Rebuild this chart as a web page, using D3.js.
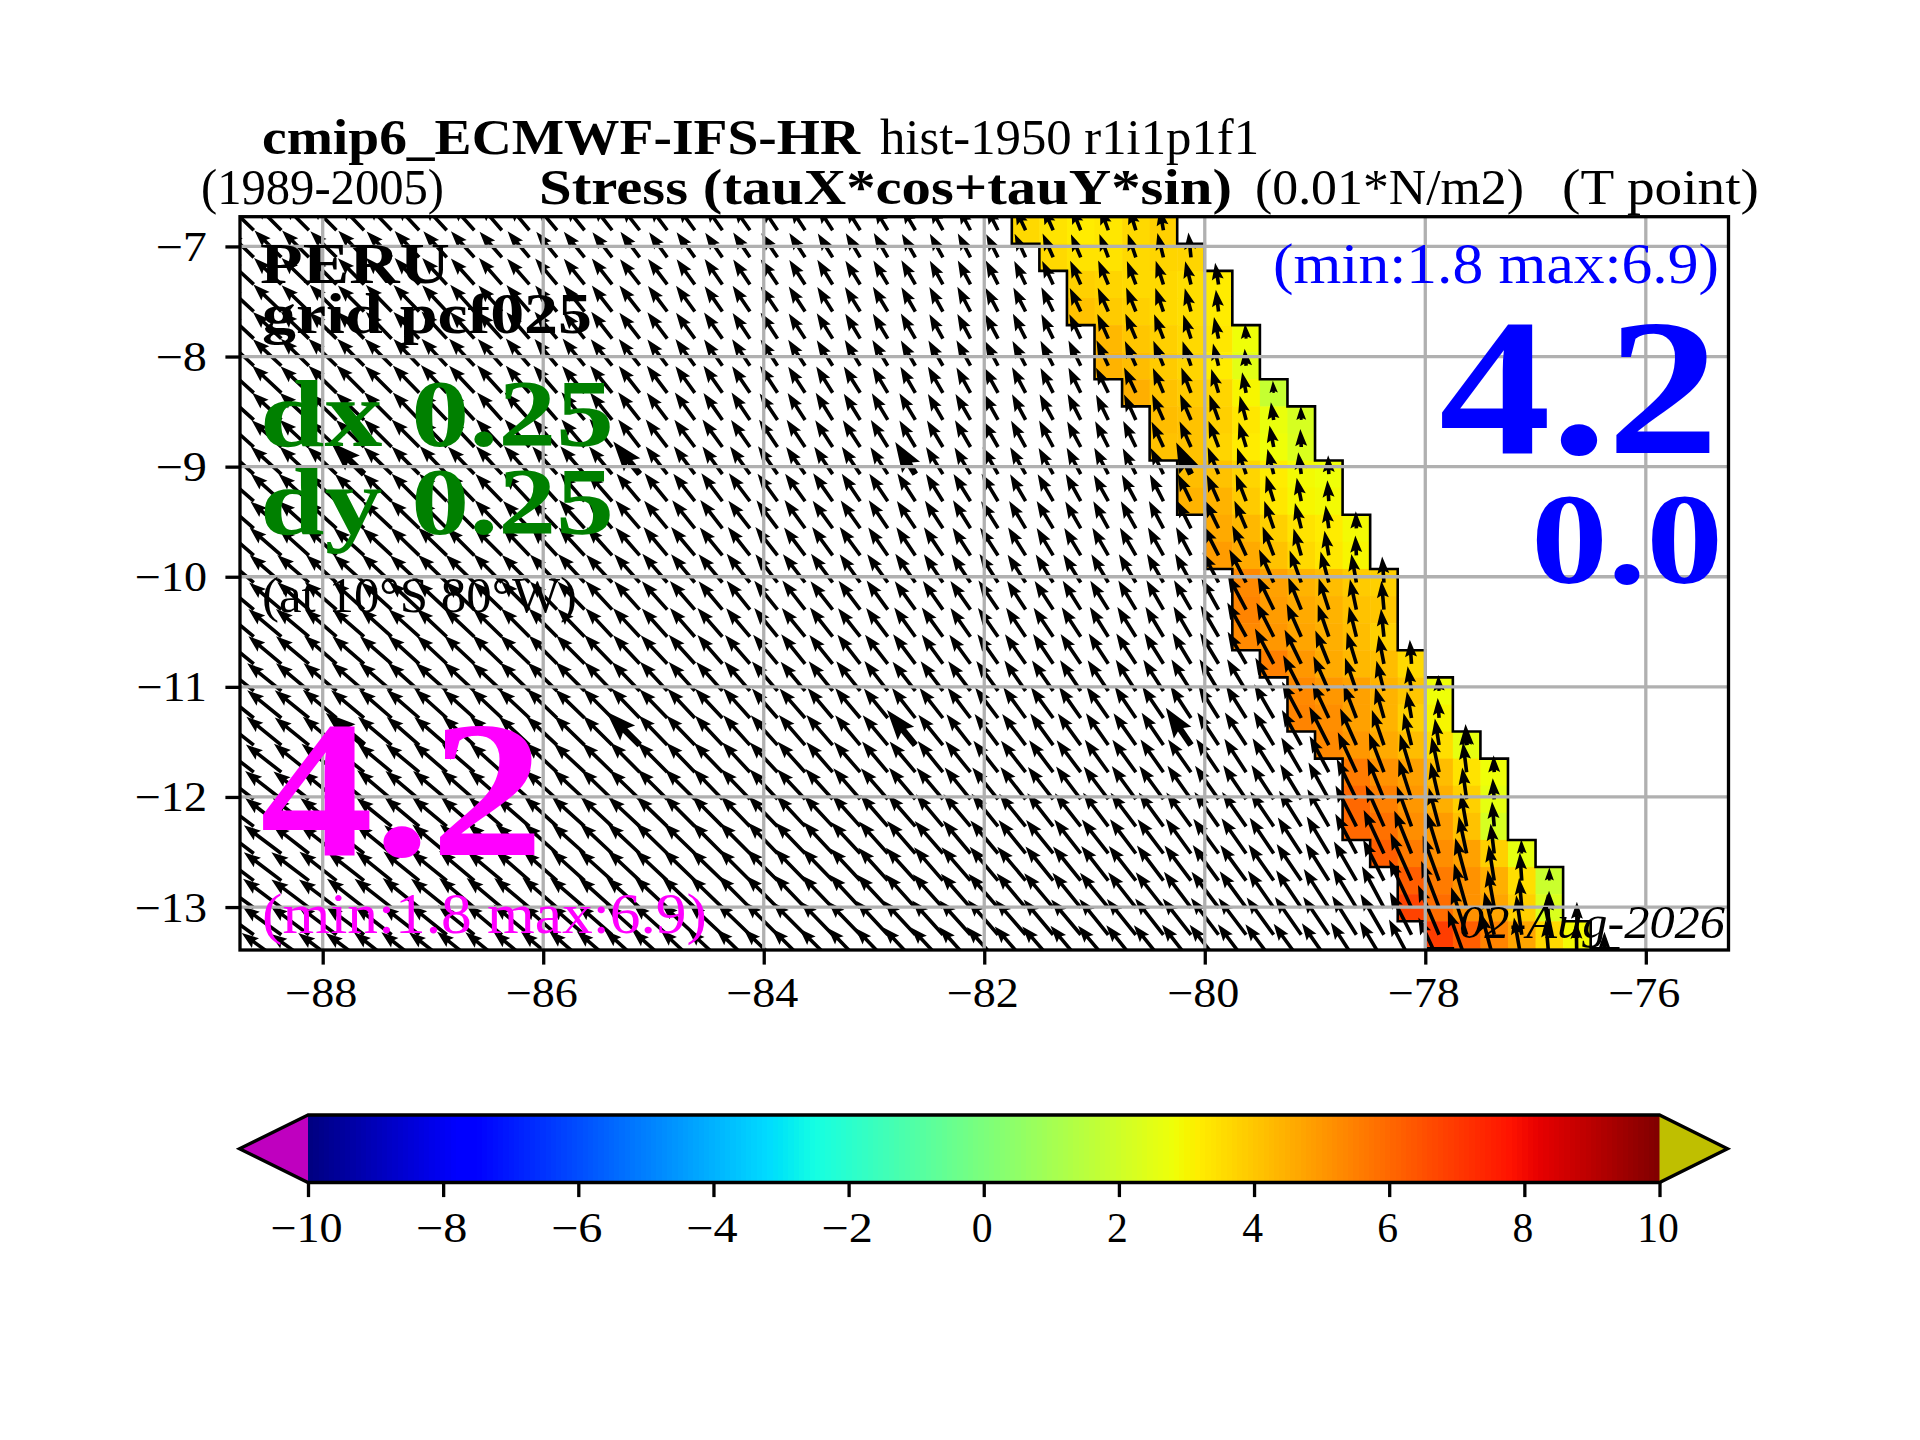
<!DOCTYPE html>
<html>
<head>
<meta charset="UTF-8">
<title>Stress PERU</title>
<script src="https://d3js.org/d3.v7.min.js"></script>
<style>
  body { margin: 0; padding: 0; background: #fff; }
  svg { display: block; }
  text { font-family: "Liberation Serif", serif; fill: #000; white-space: pre; }
</style>
</head>
<body>
<div id="chart"></div>
<script>
const lonTicks = [-88, -86, -84, -82, -80, -78, -76];
const latTicks = [-7, -8, -9, -10, -11, -12, -13];
const colorTicks = [-10, -8, -6, -4, -2, 0, 2, 4, 6, 8, 10];

// first land column of each model row (rows run north to south)
const coastCols = [34, 35, 36, 36, 37, 37, 38, 39, 39, 40, 40, 41, 41, 42, 42, 42, 43, 44, 44, 45, 46, 46, 46, 47, 48, 48, 49, 50];

// shaded coastal band: 6 cells per row, west to east, ending at the coast
const bandValues = [
  [3.6, 3.4, 3.2, 3.3, 3.6, 3.8],
  [3.6, 3.4, 3.4, 3.6, 3.7, 3.7],
  [3.8, 3.7, 3.6, 3.6, 3.5, 3.2],
  [4.1, 3.9, 3.8, 3.6, 3.5, 3.2],
  [4.3, 4.0, 3.8, 3.6, 3.3, 2.8],
  [4.4, 4.2, 3.9, 3.7, 3.2, 2.5],
  [4.5, 4.1, 3.9, 3.7, 3.0, 1.8],
  [4.2, 4.1, 3.8, 3.3, 2.7, 2.2],
  [4.1, 4.1, 3.7, 3.2, 2.8, 2.3],
  [4.2, 4.1, 3.7, 3.2, 2.9, 2.8],
  [4.4, 4.4, 3.9, 3.3, 3.0, 2.9],
  [4.6, 4.3, 3.8, 3.4, 3.2, 2.9],
  [4.9, 4.6, 4.1, 3.6, 3.3, 3.0],
  [5.3, 4.8, 4.4, 4.2, 3.9, 3.8],
  [5.4, 4.9, 4.6, 4.4, 4.1, 4.0],
  [5.3, 5.0, 4.7, 4.5, 4.2, 3.8],
  [5.5, 5.0, 4.6, 4.3, 4.2, 3.6],
  [5.3, 5.0, 4.8, 4.4, 4.0, 2.8],
  [5.4, 5.2, 4.8, 4.4, 3.8, 3.0],
  [5.3, 5.0, 4.6, 4.2, 3.5, 2.6],
  [5.6, 5.1, 4.8, 4.2, 3.4, 2.8],
  [6.0, 5.5, 5.0, 4.5, 3.8, 2.6],
  [6.0, 5.8, 5.2, 4.9, 4.1, 2.2],
  [6.2, 5.6, 5.2, 4.8, 3.8, 2.6],
  [6.2, 5.6, 5.1, 4.5, 3.5, 1.9],
  [6.8, 5.9, 5.1, 4.7, 3.8, 2.3],
  [6.9, 6.2, 5.4, 4.7, 3.6, 2.9]
];

// stress direction, degrees west of north, one row per model row
const stressDir = [
  [46,45,45,45,44,44,43,43,42,41, 40,40,39,38,38,37,36,35,35,34, 33,33,32,31,30,29,28,27,25,24, 22,20,17,10],
  [46,45,45,45,44,44,43,42,42,41, 40,39,39,38,37,36,36,35,34,34, 33,32,31,30,30,29,28,27,25,24, 23,21,19,14,6],
  [47,46,46,45,45,44,43,43,42,41, 41,40,39,38,38,37,36,35,34,34, 33,32,32,31,30,29,28,27,26,25, 24,23,21,18,14,9],
  [47,46,46,45,45,44,44,43,42,42, 41,40,39,38,38,37,36,35,34,34, 33,32,32,31,30,29,28,28,27,26, 25,24,22,19,15,7],
  [47,47,46,46,45,44,44,43,42,42, 41,40,39,38,38,37,36,35,34,33, 33,32,31,31,30,29,28,28,27,26, 25,24,23,21,18,12,4],
  [47,47,46,46,45,45,44,43,43,42, 41,40,39,39,38,37,36,35,34,33, 33,32,31,31,30,30,29,28,28,27, 26,25,24,22,19,14,5],
  [48,47,47,46,45,45,44,43,43,42, 41,41,40,39,38,37,36,35,34,33, 33,32,32,31,30,30,29,29,28,27, 26,26,25,23,21,17,11,4],
  [48,47,47,46,46,45,44,44,43,42, 42,41,40,39,38,37,36,35,34,34, 33,32,32,31,31,30,30,29,28,28, 27,26,25,24,23,20,15,9,2],
  [48,48,47,47,46,45,45,44,43,43, 42,41,40,39,38,38,37,36,35,34, 34,33,33,32,31,31,30,30,29,28, 28,27,26,25,24,21,17,11,3],
  [48,48,47,47,46,46,45,44,44,43, 42,42,41,40,39,38,37,36,36,35, 35,34,34,33,32,32,31,30,30,29, 28,28,27,26,25,22,19,14,8,2],
  [49,48,48,47,47,46,45,45,44,44, 43,42,41,41,40,39,38,37,37,36, 36,35,34,34,33,32,32,31,30,30, 29,29,28,27,26,24,21,17,11,4],
  [49,49,48,48,47,47,46,45,45,44, 44,43,42,41,41,40,39,38,38,37, 36,36,35,34,34,33,32,32,31,31, 30,29,29,28,27,26,23,19,14,8,2],
  [49,49,48,48,48,47,46,46,45,45, 44,43,43,42,41,40,40,39,38,38, 37,36,36,35,34,34,33,33,32,31, 31,30,30,29,28,27,25,21,16,10,3],
  [50,49,49,48,48,47,47,46,46,45, 45,44,43,43,42,41,40,40,39,38, 38,37,36,36,35,34,34,33,33,32, 32,31,31,30,29,28,27,24,20,15,10,4],
  [50,50,49,49,48,48,47,47,46,46, 45,44,44,43,42,42,41,40,39,39, 38,38,37,36,36,35,35,34,33,33, 32,32,31,30,30,29,28,26,22,18,12,5],
  [50,50,50,49,49,48,48,47,47,46, 45,45,44,43,43,42,41,41,40,39, 39,38,38,37,36,36,35,35,34,34, 33,32,32,31,30,30,29,27,24,19,14,6],
  [51,50,50,49,49,49,48,47,47,46, 46,45,45,44,43,43,42,41,41,40, 39,39,38,38,37,36,36,35,35,34, 34,33,33,32,31,31,30,28,26,22,17,11,4],
  [51,51,50,50,49,49,48,48,47,47, 46,46,45,44,44,43,42,42,41,41, 40,39,39,38,38,37,37,36,35,35, 34,34,33,33,32,31,31,29,27,24,19,14,9,3],
  [51,51,51,50,50,49,49,48,48,47, 47,46,46,45,44,44,43,43,42,41, 41,40,40,39,38,38,37,37,36,36, 35,35,34,34,33,32,32,30,28,25,21,16,10,4],
  [52,51,51,50,50,50,49,49,48,48, 47,47,46,45,45,44,44,43,42,42, 41,41,40,40,39,39,38,37,37,36, 36,35,35,34,34,33,33,31,29,27,24,19,14,9,3],
  [52,52,51,51,51,50,50,49,49,48, 48,47,47,46,45,45,44,44,43,43, 42,41,41,40,40,39,39,38,38,37, 37,36,36,35,35,34,33,32,30,28,25,21,17,12,7,2],
  [52,52,52,51,51,50,50,50,49,49, 48,48,47,46,46,45,45,44,44,43, 43,42,41,41,40,40,39,39,38,38, 37,37,36,36,35,35,34,33,31,29,26,22,18,13,8,4],
  [53,52,52,52,51,51,50,50,49,49, 49,48,48,47,47,46,45,45,44,44, 43,43,42,41,41,40,40,39,39,38, 38,37,37,36,36,35,35,34,32,30,27,24,20,15,10,5],
  [53,53,52,52,52,51,51,50,50,49, 49,48,48,47,47,46,46,45,45,44, 44,43,43,42,41,41,40,40,39,39, 38,38,37,37,36,36,35,34,33,31,28,25,22,17,12,7,2],
  [53,53,53,52,52,51,51,51,50,50, 49,49,48,48,47,47,46,46,45,45, 44,44,43,42,42,41,41,40,40,39, 39,38,38,37,37,36,36,35,34,32,30,27,24,20,15,9,4,0],
  [54,53,53,53,52,52,51,51,50,50, 50,49,49,48,48,47,47,46,45,45, 44,44,43,43,42,42,41,41,40,40, 39,39,38,38,37,37,36,35,34,33,31,28,25,21,16,10,5,1],
  [54,54,53,53,53,52,52,51,51,50, 50,49,49,49,48,48,47,47,46,45, 45,44,44,43,43,42,42,41,41,40, 40,39,39,38,38,37,37,36,35,34,32,30,27,23,18,13,8,3,0],
  [54,54,54,53,53,52,52,52,51,51, 50,50,49,49,48,48,47,47,46,46, 45,45,44,44,43,43,42,42,41,41, 40,40,39,39,38,38,37,37,36,35,33,31,28,25,20,15,10,5,1,0]
];

// stress magnitude, same layout, in 0.001 N/m2
const stressMag = [
  [38,38,37,37,36,36,35,35,34,34, 33,33,32,32,31,31,30,30,29,29, 28,28,28,27,27,27,26,26,25,25, 25,24,24,22],
  [38,38,38,37,37,36,36,35,35,34, 34,33,33,32,32,31,31,30,30,29, 29,28,28,28,27,27,27,26,26,26, 25,25,25,25,25],
  [39,38,38,37,37,37,36,36,35,35, 34,34,33,33,32,32,31,31,30,30, 29,29,28,28,28,27,27,27,26,26, 26,26,25,25,24,22],
  [39,39,38,38,37,37,37,36,36,35, 35,34,34,33,33,32,32,31,31,30, 30,29,29,29,28,28,28,27,27,27, 26,26,26,25,24,22],
  [39,39,39,38,38,37,37,37,36,36, 35,35,34,34,33,33,32,32,31,31, 30,30,29,29,29,28,28,28,28,27, 27,27,27,26,25,22,15],
  [40,39,39,39,38,38,37,37,37,36, 36,35,35,34,34,33,33,32,32,31, 31,30,30,30,29,29,29,28,28,28, 28,28,27,27,26,23,17],
  [40,40,39,39,39,38,38,38,37,37, 36,36,35,35,34,34,33,33,32,32, 31,31,31,30,30,30,29,29,29,28, 28,28,28,27,27,25,21,12],
  [40,40,40,39,39,39,38,38,38,37, 37,36,36,35,35,34,34,33,33,32, 32,32,31,31,31,30,30,30,29,29, 29,28,28,28,28,27,25,18,14],
  [41,40,40,40,39,39,39,38,38,38, 37,37,36,36,35,35,34,34,33,33, 33,32,32,32,31,31,31,30,30,30, 29,29,29,28,28,28,26,22,18],
  [41,41,40,40,40,39,39,39,38,38, 38,37,37,36,36,35,35,34,34,34, 33,33,33,32,32,32,31,31,31,30, 30,30,29,29,29,29,28,26,22,19],
  [41,41,41,40,40,40,39,39,39,38, 38,38,37,37,36,36,35,35,35,34, 34,34,33,33,33,32,32,32,31,31, 31,30,30,30,30,29,29,27,24,21],
  [42,41,41,41,40,40,40,39,39,39, 38,38,38,37,37,36,36,36,35,35, 35,34,34,34,33,33,33,32,32,32, 31,31,31,31,31,31,30,29,26,23,17],
  [42,42,41,41,41,40,40,40,39,39, 39,38,38,38,37,37,37,36,36,36, 35,35,35,34,34,34,33,33,33,32, 32,32,32,32,32,33,33,31,28,25,20],
  [42,42,42,41,41,41,40,40,40,40, 39,39,39,38,38,38,37,37,37,36, 36,36,35,35,35,34,34,34,33,33, 33,33,33,33,33,34,37,36,34,32,29,26],
  [43,42,42,42,42,41,41,41,40,40, 40,39,39,39,38,38,38,37,37,37, 37,36,36,36,35,35,35,35,34,34, 34,34,34,34,34,35,39,37,35,33,31,29],
  [43,43,43,42,42,42,41,41,41,40, 40,40,39,39,39,38,38,38,37,37, 37,37,36,36,36,36,35,35,35,35, 35,35,35,35,35,36,39,38,36,34,31,28],
  [43,43,43,43,42,42,42,41,41,41, 41,40,40,40,39,39,39,38,38,38, 38,37,37,37,37,36,36,36,36,36, 36,36,36,36,36,36,37,40,38,36,33,29,24],
  [44,44,43,43,43,43,42,42,42,41, 41,41,41,40,40,40,39,39,39,39, 38,38,38,38,37,37,37,37,37,37, 37,37,37,37,37,37,37,38,40,38,35,31,25,16],
  [44,44,44,44,43,43,43,43,42,42, 42,42,41,41,41,40,40,40,40,39, 39,39,39,38,38,38,38,38,38,38, 38,38,38,38,38,38,38,39,41,39,36,32,27,20],
  [45,45,44,44,44,44,43,43,43,43, 42,42,42,41,41,41,41,40,40,40, 40,40,39,39,39,39,39,39,39,39, 39,39,39,39,39,39,39,39,40,43,40,37,33,27,15],
  [45,45,45,45,44,44,44,44,43,43, 43,43,42,42,42,42,41,41,41,41, 41,40,40,40,40,40,40,40,40,40, 40,40,40,40,40,40,40,40,40,41,44,42,40,36,30,17],
  [46,46,45,45,45,45,44,44,44,44, 43,43,43,43,42,42,42,42,42,41, 41,41,41,41,41,41,41,41,41,41, 41,41,41,41,41,41,41,41,41,42,45,44,42,38,32,21],
  [46,46,46,46,45,45,45,45,44,44, 44,44,44,43,43,43,43,43,42,42, 42,42,42,42,42,42,42,42,42,42, 42,42,42,42,42,42,42,42,42,43,46,45,43,40,34,25],
  [47,47,46,46,46,46,45,45,45,45, 45,44,44,44,44,44,43,43,43,43, 43,43,43,43,43,43,43,43,43,43, 43,43,43,43,43,43,43,43,43,43,45,48,46,43,38,30,14],
  [47,47,47,47,46,46,46,46,46,45, 45,45,45,45,44,44,44,44,44,44, 44,44,44,44,44,44,44,44,44,44, 44,44,44,44,44,44,44,44,44,44,45,46,52,48,44,36,28,13],
  [48,48,47,47,47,47,47,46,46,46, 46,46,46,45,45,45,45,45,45,45, 45,45,45,45,45,45,45,45,45,45, 45,45,45,45,45,45,45,45,45,46,46,47,53,50,46,38,30,17],
  [48,48,48,48,48,47,47,47,47,47, 47,46,46,46,46,46,46,46,46,46, 46,46,46,46,46,46,46,46,46,46, 46,46,46,46,46,46,46,46,46,46,46,47,48,54,50,44,40,41,33],
  [49,49,48,48,48,48,48,48,48,47, 47,47,47,47,47,47,47,47,47,47, 47,47,47,47,47,47,47,47,47,47, 47,47,47,47,47,47,47,47,47,47,47,47,48,49,55,50,45,42,40,30]
];

// the subsampled quiver drawn heavier on top, as [row, column]
const heavyArrows = [[9, 4], [9, 14], [9, 24], [9, 34], [19, 4], [19, 14], [19, 24], [19, 34], [19, 44]];

const width = 1920, height = 1440;
const axLeft = 240, axRight = 1728.5, axTop = 216.7, axBottom = 950;
const fontMinus = v => String(v).replace("-", "\u2212");

// grid cells are 0.25 deg wide, rows shrink with the mercator grid
const lonStep = 0.25, latStep = 0.2461, lon0 = -88.75, lat0 = -6.73;
const lonEdge = c => lon0 + lonStep * c;
const latEdge = r => lat0 - latStep * r;

const x = d3.scaleLinear().domain([-88.75, -75.25]).range([axLeft, axRight]);
const y = d3.scaleLinear().domain([-6.73, -13.39]).range([axTop, axBottom]);
const arrowLen = d3.scaleLinear().domain([0, 100]).range([0, 100]);

// matplotlib jet
const jetR = d3.scaleLinear().domain([0, 0.35, 0.66, 0.89, 1]).range([0, 0, 1, 1, 0.5]);
const jetG = d3.scaleLinear().domain([0, 0.125, 0.375, 0.64, 0.91, 1]).range([0, 0, 1, 1, 0, 0]);
const jetB = d3.scaleLinear().domain([0, 0.11, 0.34, 0.65, 1]).range([0.5, 1, 1, 0, 0]);
const jet = t => d3.rgb(jetR(t) * 255, jetG(t) * 255, jetB(t) * 255).formatRgb();
const colorNorm = d3.scaleLinear().domain([-10, 10]).range([0, 1]).clamp(true);

const svg = d3.select("#chart").append("svg")
  .attr("width", width)
  .attr("height", height)
  .attr("viewBox", `0 0 ${width} ${height}`);

svg.append("rect").attr("width", width).attr("height", height).attr("fill", "#fff");

svg.append("clipPath").attr("id", "axes-clip")
  .append("rect")
  .attr("x", axLeft).attr("y", axTop)
  .attr("width", axRight - axLeft).attr("height", axBottom - axTop);

const plot = svg.append("g").attr("clip-path", "url(#axes-clip)");

// shaded cells
const cells = [];
bandValues.forEach((row, r) => {
  row.forEach((v, i) => cells.push({ r: r, c: coastCols[r] - 6 + i, v: v }));
});

plot.selectAll("rect.cell")
  .data(cells)
  .join("rect")
  .attr("class", "cell")
  .attr("x", d => x(lonEdge(d.c)))
  .attr("y", d => y(latEdge(d.r)))
  .attr("width", d => x(lonEdge(d.c + 1)) - x(lonEdge(d.c)) + 0.5)
  .attr("height", d => y(latEdge(d.r + 1)) - y(latEdge(d.r)) + 0.5)
  .attr("fill", d => jet(colorNorm(d.v)));

// staircase outline of the band
const outline = d3.path();
[0, 6].forEach(offset => {
  coastCols.forEach((n, r) => {
    const cx = x(lonEdge(n - offset));
    outline.moveTo(cx, y(latEdge(r)));
    outline.lineTo(cx, y(latEdge(r + 1)));
    if (r + 1 < coastCols.length) {
      outline.lineTo(x(lonEdge(coastCols[r + 1] - offset)), y(latEdge(r + 1)));
    }
  });
});
plot.append("path")
  .attr("d", outline.toString())
  .attr("fill", "none")
  .attr("stroke", "#000")
  .attr("stroke-width", 2.6)
  .attr("stroke-linecap", "square");

// quiver polygon pointing up from the tail at 0,0, pivot = tail
function arrowShape(len, w) {
  let hw = 1.76 * w, hl = 5 * w, ha = 4.4 * w, sw = 0.53 * w;
  if (len < hl) {
    const k = len / hl;
    hw *= k; hl *= k; ha *= k; sw *= k;
  }
  return `M${-sw},0L${-sw},${-(len - ha)}L${-hw},${-(len - hl)}L0,${-len}` +
         `L${hw},${-(len - hl)}L${sw},${-(len - ha)}L${sw},0Z`;
}

const arrows = [];
stressDir.forEach((row, r) => {
  row.forEach((dir, c) => arrows.push({ r: r, c: c, dir: dir, mag: stressMag[r][c] }));
});

const lonMid = c => lonEdge(c + 0.5);
const latMid = r => latEdge(r + 0.5);

plot.selectAll("path.arrow")
  .data(arrows)
  .join("path")
  .attr("class", "arrow")
  .attr("d", d => arrowShape(arrowLen(d.mag), 3.4))
  .attr("transform", d => `translate(${x(lonMid(d.c))},${y(latMid(d.r))}) rotate(${-d.dir})`)
  .attr("fill", "#000");

plot.selectAll("path.heavy")
  .data(heavyArrows)
  .join("path")
  .attr("class", "heavy")
  .attr("d", d => arrowShape(arrowLen(stressMag[d[0]][d[1]]) + 6, 6))
  .attr("transform", d => `translate(${x(lonMid(d[1]))},${y(latMid(d[0]))}) rotate(${-stressDir[d[0]][d[1]]})`)
  .attr("fill", "#000");

// grid on top of the arrows
plot.selectAll("line.gx")
  .data(lonTicks)
  .join("line")
  .attr("class", "gx")
  .attr("x1", d => x(d)).attr("x2", d => x(d))
  .attr("y1", axTop).attr("y2", axBottom)
  .attr("stroke", "#b0b0b0").attr("stroke-width", 3.3);

plot.selectAll("line.gy")
  .data(latTicks)
  .join("line")
  .attr("class", "gy")
  .attr("x1", axLeft).attr("x2", axRight)
  .attr("y1", d => y(d)).attr("y2", d => y(d))
  .attr("stroke", "#b0b0b0").attr("stroke-width", 3.3);

// frame and axes
svg.append("rect")
  .attr("x", axLeft).attr("y", axTop)
  .attr("width", axRight - axLeft).attr("height", axBottom - axTop)
  .attr("fill", "none").attr("stroke", "#000").attr("stroke-width", 3.3);

function styleAxis(g) {
  g.select(".domain").remove();
  g.selectAll(".tick line").attr("stroke", "#000").attr("stroke-width", 3.3);
  g.selectAll(".tick text").attr("font-size", 41.67).attr("fill", "#000")
    .style("font-family", '"Liberation Serif", serif')
    // the Computer Modern minus is wider than this font's
    .attr("textLength", function() {
      const len = this.getComputedTextLength();
      return this.textContent.includes("\u2212") ? len + 7 : len;
    })
    .attr("lengthAdjust", "spacingAndGlyphs");
}

svg.append("g")
  .attr("transform", `translate(0,${axBottom})`)
  .call(d3.axisBottom(x).tickValues(lonTicks).tickSize(14.6).tickPadding(0).tickFormat(fontMinus))
  .call(styleAxis)
  .selectAll(".tick text").attr("dy", null).attr("x", -2).attr("y", 57);

svg.append("g")
  .attr("transform", `translate(${axLeft},0)`)
  .call(d3.axisLeft(y).tickValues(latTicks).tickSize(14.6).tickPadding(0).tickFormat(fontMinus))
  .call(styleAxis)
  .selectAll(".tick text").attr("dy", null).attr("x", -33).attr("y", 14);

// colour bar
const cbTop = 1115, cbBottom = 1182.5, cbTipL = 239.5, cbTipR = 1727.5;
const cb = d3.scaleLinear().domain([-10, 10]).range([308, 1659.5]);
const cbLevels = d3.range(256);
const cbLevel = d3.scaleLinear().domain([0, 256]).range([-10, 10]);

svg.selectAll("rect.level")
  .data(cbLevels)
  .join("rect")
  .attr("class", "level")
  .attr("x", d => cb(cbLevel(d)))
  .attr("y", cbTop)
  .attr("width", d => cb(cbLevel(d + 1)) - cb(cbLevel(d)) + 0.5)
  .attr("height", cbBottom - cbTop)
  .attr("shape-rendering", "crispEdges")
  .attr("fill", d => jet((d + 0.5) / 256));

const cbMid = (cbTop + cbBottom) / 2;
svg.append("path")
  .attr("d", `M${cb(-10)},${cbTop}L${cbTipL},${cbMid}L${cb(-10)},${cbBottom}Z`)
  .attr("fill", "#bf00bf");
svg.append("path")
  .attr("d", `M${cb(10)},${cbTop}L${cbTipR},${cbMid}L${cb(10)},${cbBottom}Z`)
  .attr("fill", "#bfbf00");
svg.append("path")
  .attr("d", `M${cb(-10)},${cbTop}L${cbTipL},${cbMid}L${cb(-10)},${cbBottom}L${cb(10)},${cbBottom}L${cbTipR},${cbMid}L${cb(10)},${cbTop}Z`)
  .attr("fill", "none").attr("stroke", "#000").attr("stroke-width", 3.3);

svg.append("g")
  .attr("transform", `translate(0,${cbBottom})`)
  .call(d3.axisBottom(cb).tickValues(colorTicks).tickSize(14.6).tickPadding(0).tickFormat(fontMinus))
  .call(styleAxis)
  .selectAll(".tick text").attr("dy", null).attr("x", -2).attr("y", 59);

// text, squeezed to the measured width because the metrics differ from Computer Modern
function label(str, px, py, size, w, opts = {}) {
  svg.append("text")
    .attr("x", px).attr("y", py)
    .attr("font-size", size)
    .attr("font-weight", opts.bold ? "bold" : "normal")
    .attr("font-style", opts.italic ? "italic" : "normal")
    .attr("textLength", w)
    .attr("lengthAdjust", "spacingAndGlyphs")
    .style("fill", opts.fill || "#000")
    .text(str);
}

label("cmip6_ECMWF-IFS-HR", 262, 154, 50, 598, { bold: true });
label("hist-1950 r1i1p1f1", 880, 154, 50, 379);
label("(1989-2005)", 201, 204, 50, 243);
label("Stress (tauX*cos+tauY*sin)", 539, 204, 50, 693, { bold: true });
label("(0.01*N/m2)", 1255, 204, 50, 269);
label("(T point)", 1562, 204, 50, 197);

label("PERU", 260, 283, 58, 190, { bold: true });
label("grid pcf025", 262, 333, 58, 330, { bold: true });
label("dx 0.25", 260, 446, 95, 354, { bold: true, fill: "#008000" });
label("dy 0.25", 260, 534, 95, 354, { bold: true, fill: "#008000" });
label("(at 10\u00b0S 80\u00b0W)", 262, 612, 50, 315);
label("4.2", 260, 855, 195, 284, { bold: true, fill: "#ff00ff" });
label("(min:1.8 max:6.9)", 262, 933, 58, 445, { fill: "#ff00ff" });

label("(min:1.8 max:6.9)", 1273, 283, 58, 446, { fill: "#0000ff" });
label("4.2", 1439, 453, 195, 280, { bold: true, fill: "#0000ff" });
label("0.0", 1531, 583, 130, 192, { bold: true, fill: "#0000ff" });
label("02-Aug-2026", 1459, 938, 47, 266, { italic: true });
</script>
</body>
</html>
